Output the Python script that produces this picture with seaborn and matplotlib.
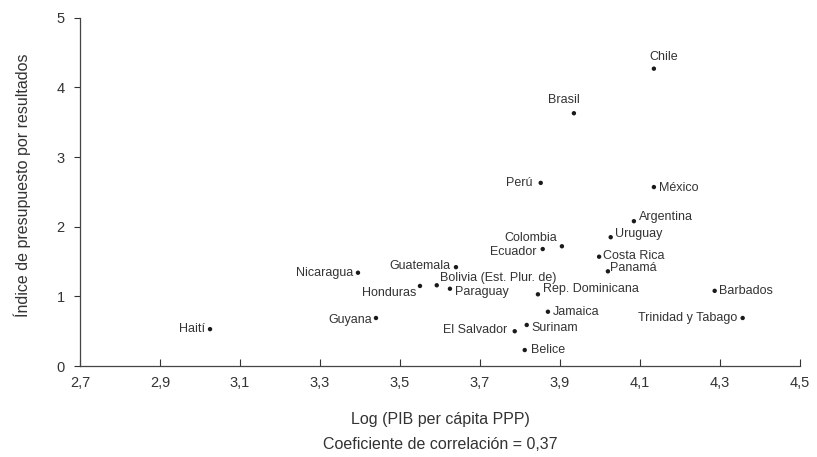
import pandas as pd
import matplotlib.pyplot as plt
import seaborn as sns

paises = ["Chile", "Brasil", "Perú", "México", "Argentina", "Uruguay", "Costa Rica",
          "Panamá", "Colombia", "Ecuador", "Rep. Dominicana", "Jamaica", "Surinam",
          "Belice", "El Salvador", "Barbados", "Trinidad y Tabago", "Nicaragua",
          "Guatemala", "Honduras", "Bolivia (Est. Plur. de)", "Paraguay", "Guyana", "Haití"]
log_pib = [4.135, 3.935, 3.852, 4.135, 4.085, 4.027, 3.998,
           4.020, 3.905, 3.857, 3.845, 3.870, 3.817,
           3.812, 3.787, 4.287, 4.357, 3.395,
           3.640, 3.550, 3.592, 3.625, 3.440, 3.025]
indice = [4.27, 3.63, 2.63, 2.57, 2.08, 1.85, 1.57,
          1.36, 1.72, 1.68, 1.03, 0.78, 0.59,
          0.23, 0.50, 1.08, 0.69, 1.34,
          1.42, 1.15, 1.16, 1.11, 0.69, 0.53]

xticks = [2.7, 2.9, 3.1, 3.3, 3.5, 3.7, 3.9, 4.1, 4.3, 4.5]
yticks = [0, 1, 2, 3, 4, 5]

# colocación de las etiquetas (desplazamiento en píxeles, alineación)
etiquetas = {
    "Chile": (10, 12, "center"), "Brasil": (-10, 13, "center"), "Perú": (-8, 0, "right"),
    "México": (5, -1, "left"), "Argentina": (5, 4, "left"), "Uruguay": (4, 3, "left"),
    "Costa Rica": (4, 1, "left"), "Panamá": (2, 3, "left"), "Colombia": (-5, 8, "right"),
    "Ecuador": (-6, -3, "right"), "Rep. Dominicana": (5, 5, "left"), "Jamaica": (5, 0, "left"),
    "Surinam": (5, -3, "left"), "Belice": (6, 0, "left"), "El Salvador": (-7, 1, "right"),
    "Barbados": (4, 0, "left"), "Trinidad y Tabago": (-5, 0, "right"),
    "Nicaragua": (-5, 0, "right"), "Guatemala": (-5, 1, "right"), "Honduras": (-4, -7, "right"),
    "Bolivia (Est. Plur. de)": (3, 7, "left"), "Paraguay": (5, -3, "left"),
    "Guyana": (-4, -2, "right"), "Haití": (-5, 0, "right"),
}

df = pd.DataFrame({"pais": paises, "x": log_pib, "y": indice})

sns.set_style("ticks")
plt.rcParams['font.family'] = ['Liberation Sans', 'DejaVu Sans']

fig = plt.figure(figsize=(8.17, 4.57), dpi=100)
ax = fig.add_axes([0.098, 0.199, 0.881, 0.762])
sns.scatterplot(data=df, x="x", y="y", color="#1a1a1a", s=10, edgecolor="none", ax=ax)

for _, fila in df.iterrows():
    dx, dy, ha = etiquetas[fila["pais"]]
    ax.annotate(fila["pais"], (fila["x"], fila["y"]), xytext=(dx, dy),
                textcoords="offset pixels", ha=ha, va="center", fontsize=9, color="#333333")

ax.set_xlim(2.7, 4.5)
ax.set_ylim(0, 5)
ax.set_xticks(xticks)
ax.set_xticklabels([f"{v:.1f}".replace(".", ",") for v in xticks])
ax.set_yticks(yticks)
ax.tick_params(axis="x", direction="in", length=5, pad=7, labelsize=10.5, colors="#333333")
ax.tick_params(axis="y", direction="out", length=4, pad=7, labelsize=10.5, colors="#333333")
sns.despine(ax=ax)
for lado in ["left", "bottom"]:
    ax.spines[lado].set_color("#444444")
    ax.spines[lado].set_linewidth(0.9)

ax.set_xlabel("Log (PIB per cápita PPP)", fontsize=11.5, color="#333333")
ax.xaxis.set_label_coords(0.5, -0.133)
ax.set_ylabel("Índice de presupuesto por resultados", fontsize=11.5, color="#333333", va="center")
ax.yaxis.set_label_coords(-0.08, 0.52)
fig.text(0.5386, 0.028, "Coeficiente de correlación = 0,37", ha="center", va="center",
         fontsize=11.5, color="#333333")

plt.savefig("out.png", dpi=100)
